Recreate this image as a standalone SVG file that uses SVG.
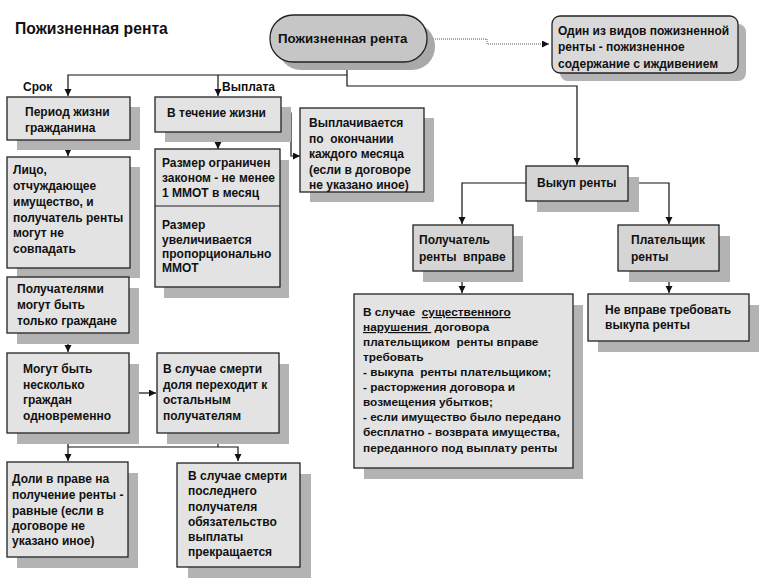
<svg xmlns="http://www.w3.org/2000/svg" width="767" height="580" viewBox="0 0 767 580">
<defs>
<marker id="ah" markerUnits="userSpaceOnUse" markerWidth="8" markerHeight="8" refX="7" refY="3.5" orient="auto">
<path d="M0,0 L7,3.5 L0,7 z" fill="#111"/>
</marker>
<style>
.t{font-family:"Liberation Sans",Arial,sans-serif;font-weight:bold;font-size:12px;fill:#111}
.box{fill:#e3e3e3;stroke:#222;stroke-width:1.3}
.box2{fill:#d5d5d5;stroke:#222;stroke-width:1.3}
.sh{fill:#b3b3b3}
.ln{fill:none;stroke:#111;stroke-width:1.2}
.u{text-decoration:underline}
</style>
</defs>
<rect width="767" height="580" fill="#ffffff"/>
<text class="t" x="15" y="34" style="font-size:15.7px">Пожизненная рента</text>

<g id="connectors">
<polyline class="ln" points="347,62 347,86 577,86 577,165" marker-end="url(#ah)"/>
<polyline class="ln" points="347,75 68,75 68,96" marker-end="url(#ah)"/>
<line class="ln" x1="218" y1="75" x2="218" y2="96" marker-end="url(#ah)"/>
<line class="ln" x1="218" y1="132" x2="218" y2="149" marker-end="url(#ah)"/>
<polyline class="ln" points="281,113 291,113 291,156 300,156" marker-end="url(#ah)"/>
<line class="ln" x1="68" y1="140" x2="68" y2="156" marker-end="url(#ah)"/>
<line class="ln" x1="68" y1="268" x2="68" y2="276" marker-end="url(#ah)"/>
<line class="ln" x1="68" y1="333" x2="68" y2="352" marker-end="url(#ah)"/>
<line class="ln" x1="129" y1="393" x2="156" y2="393" marker-end="url(#ah)"/>
<polyline class="ln" points="68,433 68,461" marker-end="url(#ah)"/>
<polyline class="ln" points="68,447 238,447 238,461" marker-end="url(#ah)"/>
<line class="ln" x1="218" y1="433" x2="218" y2="447"/>
<polyline class="ln" points="526,183 462,183 462,224" marker-end="url(#ah)"/>
<polyline class="ln" points="628,183 669,183 669,224" marker-end="url(#ah)"/>
<line class="ln" x1="462" y1="271" x2="462" y2="293" marker-end="url(#ah)"/>
<line class="ln" x1="669" y1="271" x2="669" y2="293" marker-end="url(#ah)"/>
<polyline fill="none" stroke="#555" stroke-width="1" stroke-dasharray="1,1" points="427,39 487,39 487,44 549,44" marker-end="url(#ah)"/>
</g>

<text class="t" x="23" y="91">Срок</text>
<text class="t" x="222" y="91">Выплата</text>

<g id="main">
<rect x="278" y="23" width="157" height="47" rx="23" fill="#a9a9a9"/>
<rect x="270" y="15" width="157" height="47" rx="23" fill="#c6c6c6" stroke="#222" stroke-width="1.3"/>
<text class="t" x="278" y="43" style="font-size:13.3px">Пожизненная рента</text>
</g>

<g id="vid">
<rect x="560" y="24" width="186" height="57" rx="8" fill="#b3b3b3"/>
<rect x="552" y="16" width="186" height="57" rx="8" fill="#d9d9d9" stroke="#222" stroke-width="1.3"/>
<text class="t"><tspan x="558" y="35">Один из видов пожизненной</tspan><tspan x="558" y="51">ренты - пожизненное</tspan><tspan x="558" y="68">содержание с иждивением</tspan></text>
</g>

<g id="period">
<rect class="sh" x="17" y="107" width="123" height="43"/>
<rect class="box" x="7" y="97" width="123" height="43"/>
<text class="t"><tspan x="25" y="116">Период жизни</tspan><tspan x="25" y="132">гражданина</tspan></text>
</g>

<g id="techenie">
<rect class="sh" x="165" y="107" width="126" height="35"/>
<rect class="box" x="155" y="97" width="126" height="35"/>
<text class="t" x="167" y="117">В течение жизни</text>
</g>

<g id="vyplachivaetsya">
<rect class="sh" x="310" y="118" width="124" height="84"/>
<rect class="box" x="300" y="108" width="124" height="84"/>
<text class="t" xml:space="preserve"><tspan x="309" y="127">Выплачивается</tspan><tspan x="309" y="143">по  окончании</tspan><tspan x="309" y="158">каждого месяца</tspan><tspan x="309" y="174">(если в договоре</tspan><tspan x="309" y="189">не указано иное)</tspan></text>
</g>

<g id="razmer">
<rect class="sh" x="164" y="160" width="125" height="138"/>
<rect class="box" x="155" y="149" width="125" height="138"/>
<line x1="155" y1="206" x2="280" y2="206" stroke="#222" stroke-width="1.2"/>
<text class="t"><tspan x="162" y="167">Размер ограничен</tspan><tspan x="162" y="182">законом - не менее</tspan><tspan x="162" y="197">1 ММОТ в месяц</tspan></text>
<text class="t"><tspan x="162" y="229">Размер</tspan><tspan x="162" y="244">увеличивается</tspan><tspan x="162" y="258">пропорционально</tspan><tspan x="162" y="272">ММОТ</tspan></text>
</g>

<g id="lico">
<rect class="sh" x="17" y="167" width="123" height="111"/>
<rect class="box" x="7" y="157" width="123" height="111"/>
<text class="t"><tspan x="13" y="174">Лицо,</tspan><tspan x="13" y="190">отчуждающее</tspan><tspan x="13" y="206">имущество, и</tspan><tspan x="13" y="222">получатель ренты</tspan><tspan x="13" y="237">могут не</tspan><tspan x="13" y="253">совпадать</tspan></text>
</g>

<g id="poluchatelyami">
<rect class="sh" x="17" y="288" width="122" height="56"/>
<rect class="box" x="7" y="277" width="122" height="56"/>
<text class="t"><tspan x="17" y="293">Получателями</tspan><tspan x="17" y="309">могут быть</tspan><tspan x="17" y="325">только граждане</tspan></text>
</g>

<g id="neskolko">
<rect class="sh" x="17" y="364" width="122" height="80"/>
<rect class="box" x="7" y="353" width="122" height="80"/>
<text class="t"><tspan x="23" y="373">Могут быть</tspan><tspan x="23" y="389">несколько</tspan><tspan x="23" y="404">граждан</tspan><tspan x="23" y="420">одновременно</tspan></text>
</g>

<g id="smert1">
<rect class="sh" x="167" y="364" width="122" height="80"/>
<rect class="box" x="157" y="353" width="122" height="80"/>
<text class="t"><tspan x="163" y="373">В случае смерти</tspan><tspan x="163" y="389">доля переходит к</tspan><tspan x="163" y="404">остальным</tspan><tspan x="163" y="420">получателям</tspan></text>
</g>

<g id="doli">
<rect class="sh" x="17" y="473" width="121" height="95"/>
<rect class="box" x="7" y="462" width="121" height="95"/>
<text class="t"><tspan x="12" y="483">Доли в праве на</tspan><tspan x="12" y="499">получение ренты -</tspan><tspan x="12" y="515">равные (если в</tspan><tspan x="12" y="530">договоре не</tspan><tspan x="12" y="545">указано иное)</tspan></text>
</g>

<g id="smert2">
<rect class="sh" x="188" y="474" width="123" height="104"/>
<rect class="box" x="177" y="463" width="123" height="104"/>
<text class="t"><tspan x="188" y="480">В случае смерти</tspan><tspan x="188" y="495">последнего</tspan><tspan x="188" y="511">получателя</tspan><tspan x="188" y="526">обязательство</tspan><tspan x="188" y="541">выплаты</tspan><tspan x="188" y="556">прекращается</tspan></text>
</g>

<g id="vykup">
<rect class="sh" x="537" y="177" width="102" height="35"/>
<rect class="box2" x="526" y="166" width="102" height="35"/>
<text class="t" x="537" y="187">Выкуп ренты</text>
</g>

<g id="poluchatel">
<rect class="sh" x="423" y="236" width="100" height="46"/>
<rect class="box2" x="413" y="225" width="100" height="46"/>
<text class="t" xml:space="preserve"><tspan x="419" y="244">Получатель</tspan><tspan x="419" y="261">ренты  вправе</tspan></text>
</g>

<g id="platelshik">
<rect class="sh" x="629" y="236" width="101" height="46"/>
<rect class="box2" x="618" y="225" width="101" height="46"/>
<text class="t"><tspan x="631" y="244">Плательщик</tspan><tspan x="631" y="261">ренты</tspan></text>
</g>

<g id="sluchai">
<rect class="sh" x="364" y="305" width="219" height="174"/>
<rect class="box" x="354" y="294" width="219" height="174"/>
<text class="t" xml:space="preserve" style="font-size:11.8px"><tspan x="363" y="316">В случае  <tspan class="u">существенного</tspan></tspan><tspan x="363" y="331"><tspan class="u">нарушения </tspan> договора</tspan><tspan x="363" y="346">плательщиком  ренты вправе</tspan><tspan x="363" y="361">требовать</tspan><tspan x="363" y="376">- выкупа  ренты плательщиком;</tspan><tspan x="363" y="391">- расторжения договора и</tspan><tspan x="363" y="406">возмещения убытков;</tspan><tspan x="363" y="421">- если имущество было передано</tspan><tspan x="363" y="436">бесплатно - возврата имущества,</tspan><tspan x="363" y="452">переданного под выплату ренты</tspan></text>
</g>

<g id="nevprave">
<rect class="sh" x="598" y="305" width="161" height="47"/>
<rect class="box" x="588" y="294" width="161" height="47"/>
<text class="t"><tspan x="605" y="314">Не вправе требовать</tspan><tspan x="605" y="329">выкупа ренты</tspan></text>
</g>
</svg>
